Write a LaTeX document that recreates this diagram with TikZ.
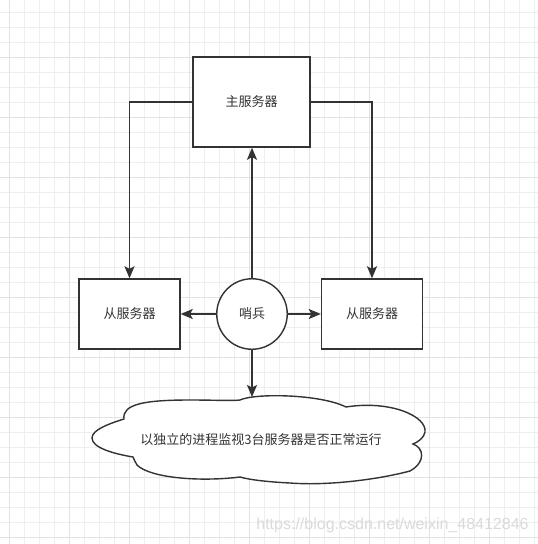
\documentclass[tikz,border=0pt]{standalone}
\usepackage{fontspec}
\usetikzlibrary{arrows.meta}
\newfontfamily\cjk{Noto Sans CJK SC}
\newfontfamily\wmfont{Liberation Sans}
\definecolor{lc}{RGB}{51,51,51}
\definecolor{gridminor}{RGB}{238,238,238}
\definecolor{gridmajor}{RGB}{226,226,226}
\definecolor{wmc}{RGB}{218,218,218}
\tikzset{
  box/.style={draw=lc, line width=1.4pt, fill=white, inner sep=0pt, text=lc,
    font=\cjk\fontsize{13pt}{15pt}\selectfont},
  roundbox/.style={box, circle},
  arr/.style={draw=lc, line width=1.4pt, -{Stealth[length=12pt,width=10pt,inset=2.5pt]}},
  cloudline/.style={draw=lc, line width=1.4pt, fill=white},
  lbl/.style={inner sep=0pt, text=lc, font=\cjk\fontsize{13pt}{15pt}\selectfont},
}
\begin{document}
\begin{tikzpicture}[x=1pt,y=-1pt]
\useasboundingbox (0,0) rectangle (538,544);
\fill[white] (0,0) rectangle (538,544);
% grid
\foreach \x in {9,24,...,534} \draw[gridminor, line width=1pt] (\x,0) -- (\x,544);
\foreach \y in {12,27,...,537} \draw[gridminor, line width=1pt] (0,\y) -- (538,\y);
\foreach \x in {9,69,...,489} \draw[gridmajor, line width=1pt] (\x,0) -- (\x,544);
\foreach \y in {57,117,...,537} \draw[gridmajor, line width=1pt] (0,\y) -- (538,\y);

% nodes
\node[box, minimum width=117pt, minimum height=90pt] (main) at (251.5,102) {主服务器};
\node[box, minimum width=101pt, minimum height=70pt] (left) at (129.5,314) {从服务器};
\node[box, minimum width=101pt, minimum height=70pt] (right) at (372,314) {从服务器};
\node[roundbox, minimum size=70.5pt] (sentinel) at (252,314) {哨兵};

% cloud
\draw[cloudline] (92,438)
  .. controls (92,430) and (108,424) .. (124,419)
  .. controls (122,404) and (145,400) .. (190,400)
  .. controls (215,400) and (232,401) .. (240,400)
  .. controls (255,393) and (320,394) .. (346,407)
  .. controls (390,400) and (427,416) .. (425,432)
  .. controls (424,438) and (418,442) .. (413,444)
  .. controls (424,448) and (426,462) .. (410,471)
  .. controls (380,479) and (330,486) .. (290,483)
  .. controls (270,482) and (250,480) .. (240,477)
  .. controls (200,482) and (150,478) .. (137,465)
  .. controls (135,462) and (134,459) .. (133,457)
  .. controls (115,454) and (92,448) .. (92,438) -- cycle;
\node[lbl] (cloudtext) at (261,440) {以独立的进程监视3台服务器是否正常运行};
\coordinate (cloudtop) at (252,397);

% connectors
\draw[arr] (main.west) -| (left.north);
\draw[arr] (main.east) -| (right.north);
\draw[arr] (sentinel.north) -- (sentinel.north |- main.south);
\draw[arr] (sentinel.west) -- (left.east);
\draw[arr] (sentinel.east) -- (right.west);
\draw[arr] (sentinel.south) -- (cloudtop);

% watermark
\node[inner sep=0pt, text=wmc, font=\wmfont\fontsize{16pt}{18pt}\selectfont] (wm) at (392.5,525) {https://blog.csdn.net/weixin\_48412846};
\end{tikzpicture}
\end{document}
